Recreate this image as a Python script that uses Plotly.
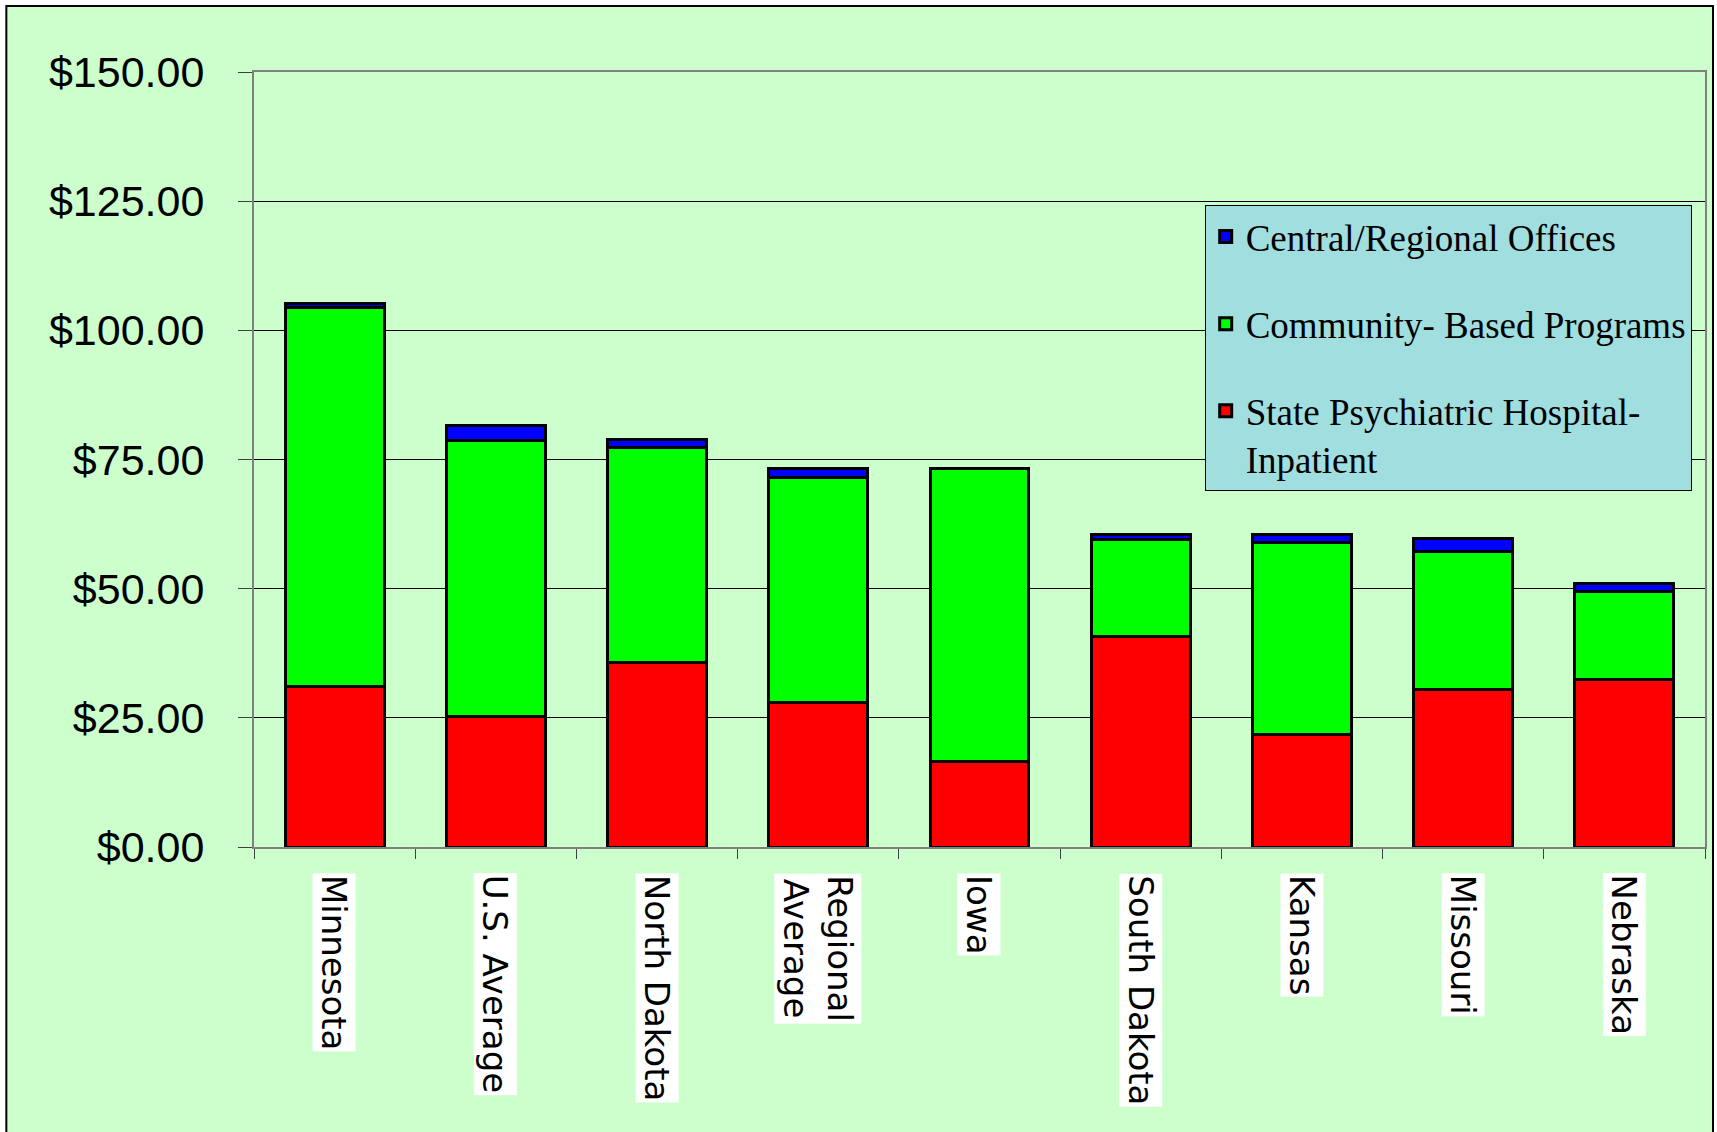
import plotly.graph_objects as go

categories = ["Minnesota", "U.S. Average", "North Dakota", "Regional<br>Average", "Iowa",
              "South Dakota", "Kansas", "Missouri", "Nebraska"]
state_hospital = [31.1, 25.3, 35.7, 28.0, 16.6, 40.7, 21.7, 30.5, 32.5]
community = [73.4, 53.4, 41.7, 43.5, 56.6, 18.9, 37.2, 26.6, 17.0]
central = [0.6, 2.8, 1.5, 1.8, 0.1, 0.9, 1.6, 2.7, 1.5]

series_names = ["State Psychiatric Hospital-<br>Inpatient", "Community- Based Programs",
                "Central/Regional Offices"]
series_values = [state_hospital, community, central]
series_colors = ["#FF0000", "#00FF00", "#0000FF"]

y_ticks = [0, 25, 50, 75, 100, 125, 150]

W, H = 1717, 1132
L, R, T, B = 254, 10, 72, 285
pw, ph = W - L - R, H - T - B

fig = go.Figure()
n = len(series_names)
for i, (name, vals, col) in enumerate(zip(series_names, series_values, series_colors)):
    fig.add_trace(go.Bar(
        x=categories, y=vals, name=name, legendgroup=name, legendrank=n - i,
        marker=dict(color=col, line=dict(color="black", width=3)),
    ))

# outer chart-area frame
fig.add_shape(type="rect", xref="paper", yref="paper",
              x0=(6 - L) / pw, x1=(1715 - L) / pw,
              y0=-(H + 20 - T - ph) / ph, y1=(H - B - 6) / ph,
              fillcolor="#CCFFCC", line=dict(color="black", width=2), layer="below")

for c in categories:
    fig.add_annotation(x=c, y=0, xref="x", yref="y", text=c, showarrow=False,
                       textangle=90, yanchor="top", yshift=-26, align="center",
                       bgcolor="white", borderpad=1,
                       font=dict(family="DejaVu Sans", size=34, color="black"))

fig.update_layout(
    width=W, height=H,
    margin=dict(l=L, r=R, t=T, b=B),
    paper_bgcolor="white", plot_bgcolor="#CCFFCC",
    barmode="stack", bargap=0.387,
    showlegend=True,
    legend=dict(x=(1206 - L) / pw, y=(H - B - 205) / ph, xanchor="left", yanchor="top",
                bgcolor="#A0DEE0", bordercolor="black", borderwidth=1,
                font=dict(family="Liberation Serif", size=37, color="black"),
                traceorder="grouped", tracegroupgap=36, valign="top"),
    xaxis=dict(showticklabels=False, ticks="outside", tickson="boundaries", ticklen=10,
               tickcolor="#404040", tickwidth=1, showline=True, linecolor="#808080",
               linewidth=2, mirror=True, showgrid=False),
    yaxis=dict(range=[0, 150], tickvals=y_ticks, tickformat="$.2f", ticks="outside",
               ticklen=14, tickcolor="#404040", tickwidth=1, showgrid=True,
               gridcolor="black", gridwidth=1, showline=True, linecolor="#808080",
               linewidth=2, mirror=True, zeroline=False, ticklabelstandoff=25,
               tickfont=dict(family="Liberation Sans", size=43, color="black")),
)

fig.write_html("out.html", config={"displayModeBar": False},
               post_script="document.body.style.margin='0';document.body.style.overflow='hidden';")
